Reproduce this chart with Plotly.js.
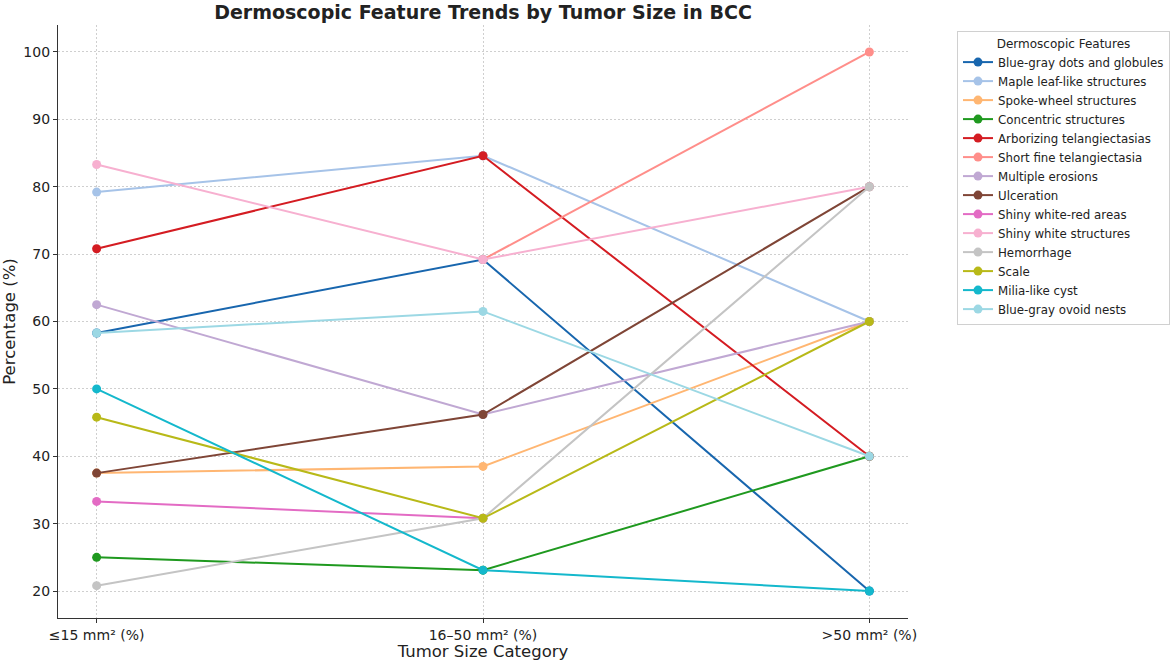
<!DOCTYPE html>
<html>
<head>
<meta charset="utf-8">
<script src="https://cdn.plot.ly/plotly-3.0.1.min.js"></script>
<style>
  html, body { margin: 0; padding: 0; background: #fff; }
  #chart { width: 1170px; height: 661px; }
</style>
</head>
<body>
<div id="chart"></div>
<script>
const sizeCategories = ['≤15 mm² (%)', '16–50 mm² (%)', '>50 mm² (%)'];

const featureNames = [
    'Blue-gray dots and globules',
    'Maple leaf-like structures',
    'Spoke-wheel structures',
    'Concentric structures',
    'Arborizing telangiectasias',
    'Short fine telangiectasia',
    'Multiple erosions',
    'Ulceration',
    'Shiny white-red areas',
    'Shiny white structures',
    'Hemorrhage',
    'Scale',
    'Milia-like cyst',
    'Blue-gray ovoid nests'
];

const blueGrayDots = [58.3, 69.2, 20];
const mapleLeaf = [79.2, 84.6, 60];
const spokeWheel = [37.5, 38.5, 60];
const concentric = [25, 23.1, 40];
const arborizing = [70.8, 84.6, 40];
const shortFine = [null, 69.2, 100];
const multipleErosions = [62.5, 46.2, 60];
const ulceration = [37.5, 46.2, 80];
const shinyWhiteRed = [33.3, 30.8, null];
const shinyWhite = [83.3, 69.2, 80];
const hemorrhage = [20.8, 30.8, 80];
const scale = [45.8, 30.8, 60];
const miliaCyst = [50, 23.1, 20];
const ovoidNests = [58.3, 61.5, 40];

const seriesValues = [
    blueGrayDots, mapleLeaf, spokeWheel, concentric, arborizing, shortFine,
    multipleErosions, ulceration, shinyWhiteRed, shinyWhite, hemorrhage,
    scale, miliaCyst, ovoidNests
];

const yTicks = [20, 30, 40, 50, 60, 70, 80, 90, 100];

// roughly tab20, nudged to the saturation seen in the picture
const colors = [
    '#1866ae', '#a6c3e8', '#ffb672', '#1f991f', '#d41c22', '#ff8e8a', '#c0a8d3',
    '#7f4536', '#e36bc4', '#f7b0d0', '#c4c4c4', '#b8b918', '#14b8cc', '#9cd8e4'
];

const data = featureNames.map((name, i) => ({
    x: sizeCategories,
    y: seriesValues[i],
    name,
    type: 'scatter',
    mode: 'lines+markers',
    line: {width: 2, color: colors[i]},
    marker: {size: 9, color: colors[i]},
    connectgaps: false
}));

const axisFont = {family: 'DejaVu Sans', size: 14, color: '#222'};

const layout = {
    width: 1170,
    height: 661,
    paper_bgcolor: '#fff',
    plot_bgcolor: '#fff',
    font: {family: 'DejaVu Sans', color: '#222'},
    margin: {l: 58, r: 262, t: 25, b: 43, autoexpand: false},
    title: {
        text: '<b>Dermoscopic Feature Trends by Tumor Size in BCC</b>',
        font: {family: 'DejaVu Sans', size: 19, color: '#222'},
        x: 483 / 1170,
        xanchor: 'center',
        y: 1 - 12 / 661,
        yanchor: 'middle'
    },
    xaxis: {
        type: 'category',
        range: [-0.1, 2.1],
        title: {text: 'Tumor Size Category', font: {family: 'DejaVu Sans', size: 16.5, color: '#222'}, standoff: 3},
        tickfont: axisFont,
        showline: true,
        linecolor: '#333',
        linewidth: 1.2,
        ticks: 'outside',
        ticklen: 4,
        tickcolor: '#333',
        showgrid: true,
        gridcolor: '#cfcfcf',
        griddash: '2px,2px',
        zeroline: false
    },
    yaxis: {
        range: [16, 104],
        tickvals: yTicks,
        title: {text: 'Percentage (%)', font: {family: 'DejaVu Sans', size: 16.5, color: '#222'}, standoff: 8},
        tickfont: axisFont,
        showline: true,
        linecolor: '#333',
        linewidth: 1.2,
        ticks: 'outside',
        ticklen: 4,
        tickcolor: '#333',
        showgrid: true,
        gridcolor: '#cfcfcf',
        griddash: '2px,2px',
        zeroline: false
    },
    legend: {
        title: {text: 'Dermoscopic Features', side: 'top center', font: {family: 'DejaVu Sans', size: 12, color: '#222'}},
        font: {family: 'DejaVu Sans', size: 11.8, color: '#222'},
        x: (957 - 58) / 850,
        xanchor: 'left',
        y: (618 - 31) / 593,
        yanchor: 'top',
        bordercolor: '#d0d0d0',
        borderwidth: 1,
        bgcolor: '#fff',
        tracegroupgap: 0,
        itemwidth: 30
    },
    showlegend: true
};

Plotly.newPlot('chart', data, layout, {displayModeBar: false});
</script>
</body>
</html>
